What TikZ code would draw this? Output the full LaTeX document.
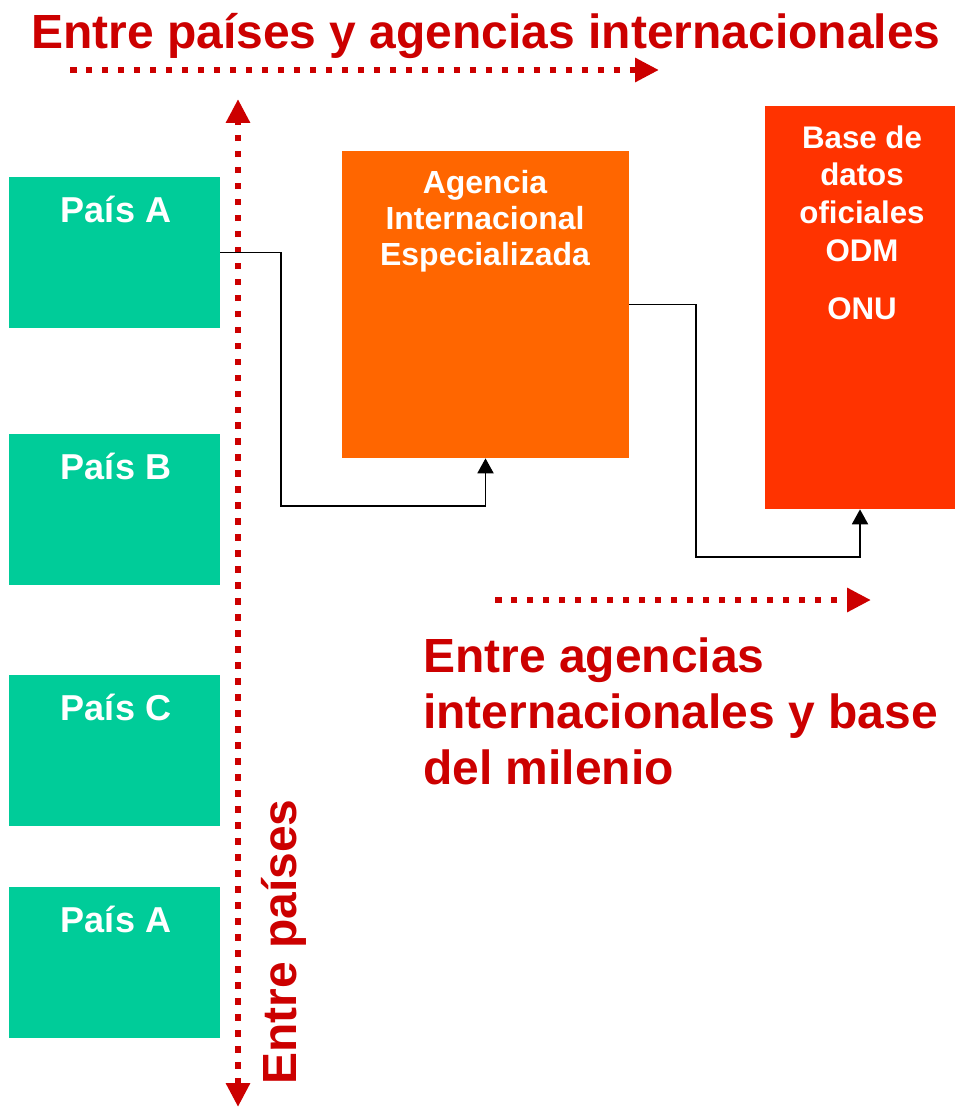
\documentclass[tikz,border=0pt]{standalone}
\usepackage{fontspec}
\setmainfont{Liberation Sans}
\usetikzlibrary{arrows.meta}
\definecolor{paisgreen}{HTML}{00CC99}
\definecolor{agorange}{HTML}{FF6600}
\definecolor{basered}{HTML}{FF3300}
\definecolor{titlered}{HTML}{CC0000}
\begin{document}
\begin{tikzpicture}[x=0.02cm,y=-0.02cm,every node/.style={inner sep=0pt},
           pais/.style={fill=paisgreen,minimum width=4.22cm,minimum height=3.02cm},
           paistext/.style={text=white,anchor=base,font=\bfseries\fontsize{20.5}{24}\selectfont},
           redtext/.style={text=titlered,font=\bfseries\fontsize{27.3}{31.9}\selectfont},
           dots/.style={titlered,line width=3.7pt,dash pattern=on 3.7pt off 5.4pt},
           link/.style={line width=1.1pt,-{Triangle[width=0.32cm,length=0.3cm]}},
           >={Triangle[width=0.46cm,length=0.48cm]}]
           \useasboundingbox (0,0) rectangle (955,1108);
           % paises
           \node[pais](paisA)at(114.5,252.5){};
           \node[pais](paisB)at(114.5,509.5){};
           \node[pais](paisC)at(114.5,750.5){};
           \node[pais](paisD)at(114.5,962.5){};
           \node[paistext]at(116,222){País A};
           \node[paistext]at(116,479){País B};
           \node[paistext]at(116,720){País C};
           \node[paistext]at(116,932){País A};
           % agencia y base
           \node[fill=agorange,minimum width=5.74cm,minimum height=6.14cm](agencia)at(485.5,304.5){};
           \node[text=white,align=center,anchor=north,
             font=\bfseries\fontsize{18.2}{20.6}\selectfont]at(485,170)
             {Agencia\\Internacional\\Especializada};
           \node[fill=basered,minimum width=3.8cm,minimum height=8.06cm](base)at(860,307.5){};
           \node[text=white,align=center,anchor=north,
             font=\bfseries\fontsize{17.8}{21.6}\selectfont]at(862,125)
             {Base de\\datos\\oficiales\\ODM};
           \node[text=white,anchor=base,font=\bfseries\fontsize{17.8}{21.6}\selectfont]
             at(862,319){ONU};
           % flechas punteadas
           \coordinate(t1)at(70,70);\coordinate(t2)at(659,70);
           \coordinate(v1)at(238,1107);\coordinate(v2)at(238,99);
           \coordinate(h1)at(495,600);\coordinate(h2)at(871,600);
           \draw[dots,->](t1)--(t2);
           \draw[dots,<->](v1)--(v2);
           \draw[dots,->](h1)--(h2);
           % conexiones
           \coordinate(c1)at(281,506);
           \coordinate(c2)at(696,557);
           \draw[link](paisA.east)-|(c1)-|(agencia.south);
           \draw[link](agencia.east)-|(c2)-|(base.south);
           % textos
           \node[redtext,anchor=base west]at(31,49){Entre países y agencias internacionales};
           \node[redtext,align=left,anchor=north west]at(423,637)
             {Entre agencias\\internacionales y base\\del milenio};
           \node[redtext,rotate=90,anchor=base west]at(296,1085){Entre países};
         \end{tikzpicture}
\end{document}
